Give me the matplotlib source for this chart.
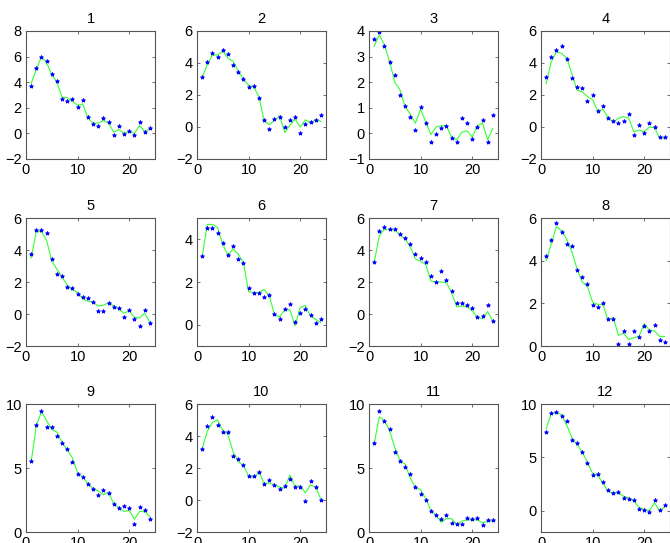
import numpy as np
import matplotlib.pyplot as plt

# x positions shared by all panels
t = np.arange(1, 25)

# observed points (blue) and fitted curve (green), one pair per panel
obs_1 = [3.71, 5.12, 6.0, 5.64, 4.62, 4.13, 2.65, 2.55, 2.65, 2.1, 2.6, 1.32,
         0.75, 0.6, 1.19, 0.9, -0.15, 0.6, -0.08, 0.15, -0.1, 0.86, 0.08, 0.39]
fit_1 = [3.9, 5.0, 6.0, 5.5, 4.6, 4.0, 2.8, 2.8, 2.5, 2.2, 2.3, 1.2,
         0.8, 0.8, 1.0, 0.8, 0.1, 0.3, 0.0, 0.15, 0.0, 0.6, 0.15, 0.35]
obs_2 = [3.14, 4.05, 4.6, 4.39, 4.82, 4.55, 3.85, 3.45, 2.97, 2.47, 2.58, 1.81,
         0.42, -0.15, 0.48, 0.6, -0.02, 0.42, 0.64, -0.35, 0.2, 0.31, 0.42, 0.77]
fit_2 = [3.1, 3.9, 4.5, 4.5, 4.75, 4.3, 4.1, 3.5, 3.0, 2.6, 2.5, 1.9,
         0.4, 0.15, 0.4, 0.7, -0.35, 0.1, 0.5, 0.0, 0.45, 0.25, 0.45, 0.35]
obs_3 = [3.69, 3.96, 3.42, 2.79, 2.29, 1.49, 1.06, 0.66, 0.12, 1.05, 0.42, -0.32,
         -0.03, 0.22, 0.27, -0.19, -0.32, 0.62, 0.42, -0.21, 0.25, 0.52, -0.32, 0.71]
fit_3 = [3.4, 3.85, 3.45, 2.8, 2.0, 1.7, 1.05, 0.75, 0.4, 0.95, 0.45, -0.05,
         0.25, 0.3, 0.3, -0.15, -0.25, 0.05, 0.1, -0.15, 0.3, 0.4, -0.25, 0.2]
obs_4 = [3.14, 4.39, 4.84, 5.07, 4.24, 3.06, 2.47, 2.41, 1.6, 2.02, 0.98, 1.33,
         0.56, 0.37, 0.25, 0.37, 0.83, -0.5, 0.15, -0.35, 0.25, 0.0, -0.62, -0.6]
fit_4 = [2.7, 4.1, 4.7, 4.6, 4.3, 3.3, 2.3, 2.2, 1.9, 1.7, 1.0, 1.1,
         0.6, 0.3, 0.55, 0.65, 0.55, -0.3, -0.2, -0.3, 0.0, -0.05, -0.7, -0.7]
obs_5 = [3.75, 5.24, 5.28, 5.09, 3.43, 2.5, 2.38, 1.7, 1.6, 1.28, 1.05, 0.97,
         0.72, 0.19, 0.19, 0.67, 0.46, 0.36, -0.21, 0.23, -0.29, -0.72, 0.23, -0.59]
fit_5 = [3.5, 5.15, 5.15, 4.6, 3.3, 2.8, 2.3, 1.8, 1.5, 1.35, 0.95, 0.8,
         0.75, 0.5, 0.55, 0.7, 0.5, 0.3, 0.05, 0.2, -0.2, -0.25, 0.05, -0.5]
obs_6 = [3.22, 4.54, 4.54, 4.31, 3.84, 3.26, 3.71, 3.09, 2.91, 1.74, 1.47, 1.47,
         1.29, 1.4, 0.5, 0.28, 0.74, 0.95, 0.11, 0.56, 0.74, 0.43, 0.08, 0.26]
fit_6 = [3.2, 4.7, 4.7, 4.55, 3.75, 3.25, 3.55, 3.3, 2.9, 1.55, 1.5, 1.5,
         1.65, 1.35, 0.5, 0.35, 0.7, 0.7, -0.05, 0.8, 0.9, 0.4, 0.25, 0.1]
obs_7 = [3.24, 5.2, 5.41, 5.3, 5.3, 4.99, 4.76, 4.35, 3.72, 3.51, 3.24, 2.37,
         1.99, 2.68, 2.12, 1.41, 0.69, 0.67, 0.56, 0.35, -0.19, -0.12, 0.56, -0.44]
fit_7 = [3.2, 4.9, 5.3, 5.25, 5.25, 4.95, 4.7, 4.2, 3.45, 3.3, 3.1, 2.05,
         2.0, 2.0, 1.95, 1.35, 0.45, 0.5, 0.45, 0.2, -0.2, -0.3, 0.15, -0.45]
obs_8 = [4.24, 4.99, 5.78, 5.33, 4.77, 4.67, 3.58, 3.25, 2.9, 1.9, 1.85, 2.0,
         1.26, 1.26, 0.09, 0.72, 0.11, 0.7, 0.42, 0.93, 0.72, 0.98, 0.28, 0.19]
fit_8 = [4.0, 4.8, 5.6, 5.4, 5.0, 4.4, 3.6, 3.0, 2.8, 2.05, 1.95, 1.95,
         1.2, 1.35, 0.5, 0.6, 0.3, 0.4, 0.45, 1.05, 0.75, 0.7, 0.45, 0.45]
obs_9 = [5.58, 8.35, 9.43, 8.17, 8.24, 7.49, 6.92, 6.51, 5.5, 4.52, 4.32, 3.77,
         3.33, 2.87, 3.31, 3.07, 2.17, 1.89, 2.02, 1.89, 0.62, 1.99, 1.68, 0.98]
fit_9 = [5.5, 8.3, 9.4, 8.7, 8.0, 7.8, 7.0, 6.4, 5.8, 4.6, 4.3, 3.8,
         3.4, 3.2, 2.9, 3.1, 2.2, 1.9, 1.6, 1.7, 1.0, 1.6, 1.6, 1.2]
obs_10 = [3.18, 4.63, 5.19, 4.69, 4.28, 4.28, 2.77, 2.56, 2.19, 1.49, 1.49, 1.74,
          1.03, 1.28, 0.95, 0.7, 0.87, 1.32, 0.83, 0.83, -0.08, 1.18, 0.83, 0.02]
fit_10 = [3.2, 4.3, 4.85, 5.0, 4.35, 4.1, 3.0, 2.4, 2.15, 1.5, 1.4, 1.75,
          1.05, 1.05, 0.95, 0.8, 0.75, 1.55, 0.85, 0.9, 0.45, 0.95, 0.8, 0.05]
obs_11 = [6.92, 9.48, 8.68, 8.01, 6.28, 5.53, 5.06, 4.52, 3.54, 2.95, 2.53, 1.63,
          1.34, 1.03, 1.34, 0.72, 0.62, 0.62, 1.06, 1.01, 1.06, 0.57, 0.96, 0.96]
fit_11 = [6.9, 9.0, 8.7, 7.9, 6.6, 5.6, 5.3, 4.2, 3.5, 3.3, 2.6, 1.7,
          1.3, 0.75, 1.05, 1.05, 0.6, 0.85, 0.95, 0.95, 0.95, 0.7, 0.85, 0.85]
obs_12 = [7.41, 9.17, 9.23, 8.92, 8.36, 6.64, 6.33, 5.52, 4.51, 3.36, 3.4, 2.72,
          1.98, 1.67, 1.79, 1.23, 1.14, 1.02, 0.19, 0.06, -0.12, 1.02, 0.06, 0.52]
fit_12 = [7.7, 9.1, 9.2, 9.0, 8.0, 6.8, 6.2, 5.5, 4.5, 3.5, 3.3, 2.6,
          1.8, 1.65, 1.7, 1.35, 1.2, 0.9, 0.3, 0.1, 0.0, 0.75, -0.05, 0.4]

obs = [obs_1, obs_2, obs_3, obs_4, obs_5, obs_6,
       obs_7, obs_8, obs_9, obs_10, obs_11, obs_12]
fits = [fit_1, fit_2, fit_3, fit_4, fit_5, fit_6,
        fit_7, fit_8, fit_9, fit_10, fit_11, fit_12]

# y limits and ticks per panel
ylims = [(-2, 8), (-2, 6), (-1, 4), (-2, 6), (-2, 6), (-1, 5),
         (-2, 6), (0, 6), (0, 10), (-2, 6), (0, 10), (-2, 10)]
yticks = [[-2, 0, 2, 4, 6, 8], [-2, 0, 2, 4, 6], [-1, 0, 1, 2, 3, 4],
          [-2, 0, 2, 4, 6], [-2, 0, 2, 4, 6], [0, 2, 4],
          [-2, 0, 2, 4, 6], [0, 2, 4, 6], [0, 5, 10],
          [-2, 0, 2, 4, 6], [0, 5, 10], [0, 5, 10]]
xticks = [0, 10, 20]

#----- layout in pixels (figure is 670 x 543)
W, H = 670, 543
lefts = [26, 197, 369, 541]
tops = [31, 218, 404]
aw, ah = 129, 128

fig = plt.figure(figsize=(W / 100, H / 100), dpi=100)
plt.rcParams['font.family'] = ['Liberation Sans', 'DejaVu Sans']

for i in range(12):
    r, c = divmod(i, 4)
    ax = fig.add_axes([lefts[c] / W, 1 - (tops[r] + ah) / H, aw / W, ah / H])
    ax.plot(t, fits[i], color='#33ff33', lw=0.8)
    ax.plot(t, obs[i], '*', color='blue', ms=3, mew=0.6)
    ax.set_xlim(0, 25)
    ax.set_ylim(*ylims[i])
    ax.set_xticks(xticks)
    ax.set_yticks(yticks[i])
    ax.tick_params(direction='in', top=True, right=True, length=2.5,
                   width=0.5, labelsize=10.5, colors='#333333', labelcolor='black', pad=3)
    for s in ax.spines.values():
        s.set_color('#555555')
        s.set_linewidth(0.8)
    ax.set_title(str(i + 1), fontsize=10.5, pad=6)

plt.savefig('out.png', dpi=100)
